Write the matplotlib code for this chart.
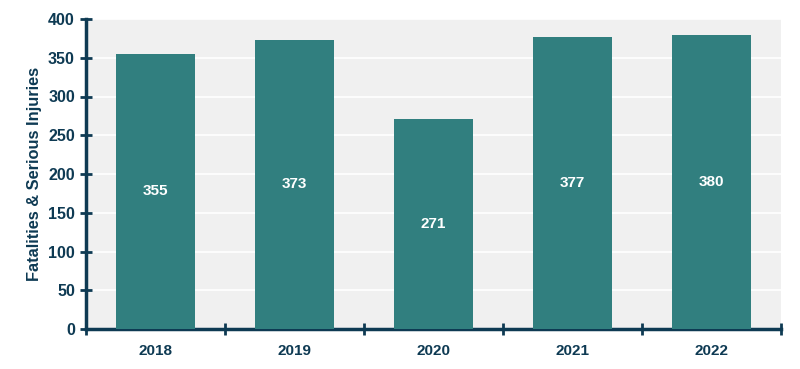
import matplotlib
matplotlib.use("Agg")
import matplotlib.pyplot as plt
import numpy as np

years = ["2018", "2019", "2020", "2021", "2022"]
values = [355, 373, 271, 377, 380]

navy = "#0E3A53"
bar_color = "#317F7F"

plt.rcParams['font.family'] = ['Liberation Sans', 'DejaVu Sans']

fig = plt.figure(figsize=(8, 3.69), dpi=100)
ax = fig.add_axes([86/800, 1-329/369, (781-86)/800, (329-19)/369])
ax.set_facecolor("#F0F0F0")

x = np.arange(len(years))
bars = ax.bar(x, values, width=0.57, color=bar_color, zorder=3)
for xi, v in zip(x, values):
    ax.text(xi, v/2, str(v), ha='center', va='center', color='white',
            fontsize=11, fontweight='bold', zorder=4)

ax.set_xlim(-0.5, len(years)-0.5)
ax.set_ylim(0, 400)
ax.set_yticks(np.arange(0, 401, 50))
ax.set_xticks(x)
ax.set_xticklabels(years)
ax.set_xticks(np.arange(-0.5, len(years), 1), minor=True)
ax.tick_params(axis='x', which='major', length=0, pad=11, labelsize=11, labelcolor=navy)
ax.tick_params(axis='x', which='minor', length=8, width=2, direction='inout', color=navy)
ax.tick_params(axis='y', length=8, width=2, direction='inout', color=navy, labelsize=11.5,
               labelcolor=navy, pad=4)
for lab in ax.get_xticklabels() + ax.get_yticklabels():
    lab.set_fontweight('bold')

ax.grid(axis='y', color='white', linewidth=1.2, zorder=1)
ax.set_axisbelow(True)
for s in ['top', 'right']:
    ax.spines[s].set_visible(False)
for s in ['left', 'bottom']:
    ax.spines[s].set_color(navy)
    ax.spines[s].set_linewidth(2.5)

ax.set_ylabel("Fatalities & Serious Injuries", fontsize=11.8, fontweight='bold', color=navy, labelpad=4)

fig.savefig("out.png", dpi=100, facecolor='white')
